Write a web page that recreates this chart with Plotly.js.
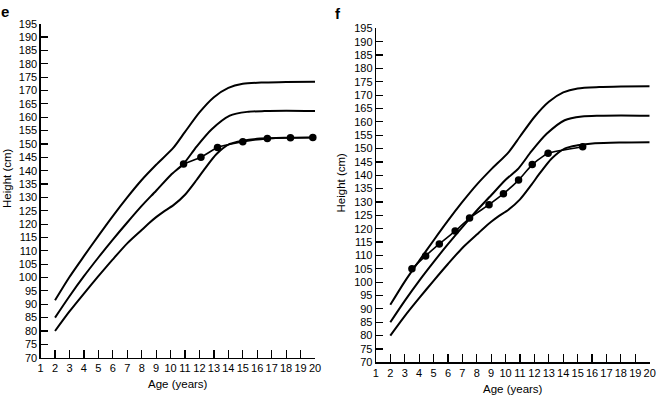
<!DOCTYPE html>
<html>
<head>
<meta charset="utf-8">
<script src="https://cdn.plot.ly/plotly-3.0.1.min.js"></script>
<style>html,body{margin:0;padding:0;background:#fff;}#chart{width:658px;height:395px;}</style>
</head>
<body>
<div id="chart"></div>
<script>
// Reference growth curves (same in both panels)
const upperAges     = [2, 3, 4, 5, 6, 7, 8, 9, 10.2, 11, 12, 13, 14, 15, 16.5, 18, 20];
const upperHeights  = [91.5, 100.2, 108, 115.6, 123, 130, 136.5, 142.2, 148.6, 154.5, 161.8, 167.5, 171, 172.5, 173, 173.2, 173.3];
const middleAges    = [2, 3, 4, 5, 6, 7, 8, 9, 10, 10.9, 11.8, 12.85, 14.1, 15.3, 16.5, 18, 20];
const middleHeights = [85, 93, 100.5, 107.5, 114.2, 120.6, 126.8, 132.5, 138.3, 142.6, 149, 155.5, 160.6, 162, 162.3, 162.4, 162.3];
const lowerAges     = [2, 3, 4, 5, 6, 7, 8, 8.5, 9, 9.5, 10.2, 11, 11.8, 12.3, 13.2, 14.1, 15, 16.2, 18, 20];
const lowerHeights  = [80, 87.3, 94, 100.5, 106.8, 112.8, 117.8, 120.3, 122.6, 124.6, 127.1, 131, 136.5, 140.2, 146.3, 150, 151.2, 152, 152.3, 152.4];

// Patient measurements
const ageE    = [10.9, 12.1, 13.25, 15.0, 16.7, 18.3, 19.85];
const heightE = [142.5, 145, 148.7, 150.8, 152, 152.3, 152.4];
const ageF    = [3.5, 4.45, 5.4, 6.5, 7.5, 8.85, 9.85, 10.9, 11.85, 12.95, 15.35];
const heightF = [105, 109.8, 114.3, 119.1, 124, 129, 133.1, 138.2, 144, 148.2, 150.7];

const xTicks = [];
for (let a = 1; a <= 20; a++) xTicks.push(a);

const W = 658, H = 395;
const curveLine = {color: '#000', width: 2, shape: 'spline', smoothing: 0.75};
const dataLine = {color: '#000', width: 1.6, shape: 'spline', smoothing: 0.5};

function curves(xa, ya) {
  return [
    {x: upperAges, y: upperHeights, xaxis: xa, yaxis: ya, mode: 'lines', line: curveLine, hoverinfo: 'skip'},
    {x: middleAges, y: middleHeights, xaxis: xa, yaxis: ya, mode: 'lines', line: curveLine, hoverinfo: 'skip'},
    {x: lowerAges, y: lowerHeights, xaxis: xa, yaxis: ya, mode: 'lines', line: curveLine, hoverinfo: 'skip'}
  ];
}

const traces = [
  ...curves('x', 'y'),
  {x: ageE, y: heightE, xaxis: 'x', yaxis: 'y', mode: 'lines+markers', line: dataLine,
   marker: {color: '#000', size: 7.5}, cliponaxis: false},
  ...curves('x2', 'y2'),
  {x: ageF, y: heightF, xaxis: 'x2', yaxis: 'y2', mode: 'lines+markers', line: dataLine,
   marker: {color: '#000', size: 7.5}, cliponaxis: false}
];

const tickFont = {family: 'Liberation Sans, Arial, sans-serif', size: 11, color: '#000'};
function xAxis(dom, anchor) {
  return {domain: dom, anchor: anchor, range: [1, 20], tickvals: xTicks, ticktext: xTicks.map(String),
    ticks: 'inside', ticklen: 8, tickwidth: 1.2, tickcolor: '#000', showline: true, linecolor: '#000',
    linewidth: 1.2, showgrid: false, zeroline: false, tickfont: tickFont, fixedrange: true};
}
function yAxis(dom, anchor) {
  return {domain: dom, anchor: anchor, range: [70, 195], tick0: 70, dtick: 5,
    ticks: 'inside', ticklen: 7.5, tickwidth: 1.2, tickcolor: '#000', showline: true, linecolor: '#000',
    linewidth: 1.2, showgrid: false, zeroline: false, tickfont: tickFont, fixedrange: true};
}

const titleFont = {family: 'Liberation Sans, Arial, sans-serif', size: 11.5, color: '#000'};
function ann(text, px, py, extra) {
  return Object.assign({text: text, xref: 'paper', yref: 'paper', x: px / W, y: 1 - py / H,
    showarrow: false, xanchor: 'center', yanchor: 'middle', font: titleFont}, extra || {});
}

const layout = {
  width: W, height: H,
  margin: {l: 0, r: 0, t: 0, b: 0},
  paper_bgcolor: '#fff', plot_bgcolor: '#fff',
  showlegend: false,
  xaxis: xAxis([40.6 / W, 315 / W], 'y'),
  yaxis: yAxis([1 - 357.7 / H, 1 - 23.7 / H], 'x'),
  xaxis2: xAxis([375.9 / W, 649.7 / W], 'y2'),
  yaxis2: yAxis([1 - 362.3 / H, 1 - 28.3 / H], 'x2'),
  annotations: [
    ann('Age (years)', 178, 384),
    ann('Age (years)', 512.8, 388.5),
    ann('Height (cm)', 7, 178, {textangle: -90}),
    ann('Height (cm)', 340, 182.5, {textangle: -90}),
    ann('<b>e</b>', 5, 11, {font: {family: 'Liberation Sans, Arial, sans-serif', size: 15, color: '#000'}}),
    ann('<b>f</b>', 338.5, 14, {font: {family: 'Liberation Sans, Arial, sans-serif', size: 15, color: '#000'}})
  ]
};

Plotly.newPlot('chart', traces, layout, {displayModeBar: false, staticPlot: true});
</script>
</body>
</html>
